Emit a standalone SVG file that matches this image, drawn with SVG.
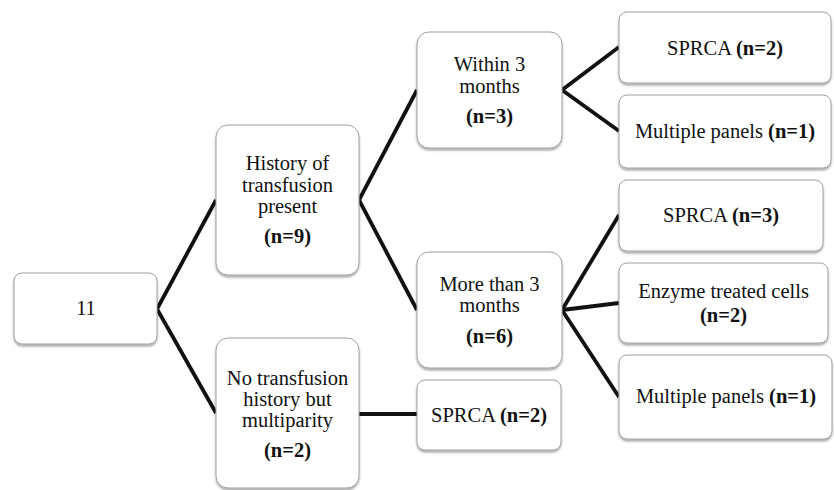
<svg xmlns="http://www.w3.org/2000/svg" width="834" height="490" viewBox="0 0 834 490">
<style>
.box{fill:#fff;stroke:#a0a0a0;stroke-width:1;filter:url(#sh)}
.t{font-family:'Liberation Serif','Times New Roman',serif;font-size:20.5px;fill:#111;text-anchor:middle}
.b{font-weight:bold}
.ln{stroke:#111;stroke-width:3.8;fill:none;stroke-linejoin:miter}
</style>
<defs>
<filter id="sh" x="-10%" y="-10%" width="120%" height="130%">
<feDropShadow dx="0" dy="2" stdDeviation="1.3" flood-color="#000" flood-opacity="0.35"/>
</filter>
</defs>
<rect width="834" height="490" fill="#fff"/>
<g id="connectors">
<polyline class="ln" points="216,200 157,309 216,413"/>
<polyline class="ln" points="417,90 359,200 417,310"/>
<line class="ln" x1="359" y1="414" x2="417" y2="414"/>
<polyline class="ln" points="619,47 562,90 619,131"/>
<polyline class="ln" points="619,215 562,310 619,397"/>
<line class="ln" x1="562" y1="310" x2="619" y2="303"/>
</g>
<g id="n11"><rect class="box" x="14" y="273" width="143" height="71" rx="8"/><text class="t" x="86" y="315">11</text></g>
<g id="history"><rect class="box" x="216" y="125" width="143" height="150" rx="12"/>
<text class="t" x="287.5" y="170">History of</text><text class="t" x="287.5" y="192">transfusion</text><text class="t" x="287.5" y="213">present</text><text class="t b" x="287.5" y="243">(n=9)</text></g>
<g id="notransfusion"><rect class="box" x="216" y="338" width="143" height="150" rx="12"/>
<text class="t" x="287.5" y="385">No transfusion</text><text class="t" x="287.5" y="406">history but</text><text class="t" x="287.5" y="427">multiparity</text><text class="t b" x="287.5" y="457">(n=2)</text></g>
<g id="within"><rect class="box" x="417" y="32" width="145" height="116" rx="12"/>
<text class="t" x="489.5" y="71">Within 3</text><text class="t" x="489.5" y="93">months</text><text class="t b" x="489.5" y="123">(n=3)</text></g>
<g id="more"><rect class="box" x="417" y="252" width="145" height="116" rx="12"/>
<text class="t" x="489.5" y="291">More than 3</text><text class="t" x="489.5" y="312">months</text><text class="t b" x="489.5" y="343">(n=6)</text></g>
<g id="sprca-multi"><rect class="box" x="417" y="380" width="144" height="70" rx="8"/>
<text class="t" x="489" y="422">SPRCA <tspan class="b">(n=2)</tspan></text></g>
<g id="sprca2"><rect class="box" x="619" y="12" width="212" height="71" rx="8"/>
<text class="t" x="725" y="55">SPRCA <tspan class="b">(n=2)</tspan></text></g>
<g id="multi1"><rect class="box" x="619" y="95" width="212" height="73" rx="8"/>
<text class="t" x="725" y="138">Multiple panels <tspan class="b">(n=1)</tspan></text></g>
<g id="sprca3"><rect class="box" x="619" y="180" width="204" height="71" rx="8"/>
<text class="t" x="721" y="222">SPRCA <tspan class="b">(n=3)</tspan></text></g>
<g id="enzyme"><rect class="box" x="619" y="263" width="209" height="80" rx="8"/>
<text class="t" x="723.5" y="298">Enzyme treated cells</text><text class="t b" x="723.5" y="322">(n=2)</text></g>
<g id="multi2"><rect class="box" x="619" y="355" width="213" height="84" rx="8"/>
<text class="t" x="726" y="403">Multiple panels <tspan class="b">(n=1)</tspan></text></g>
</svg>
